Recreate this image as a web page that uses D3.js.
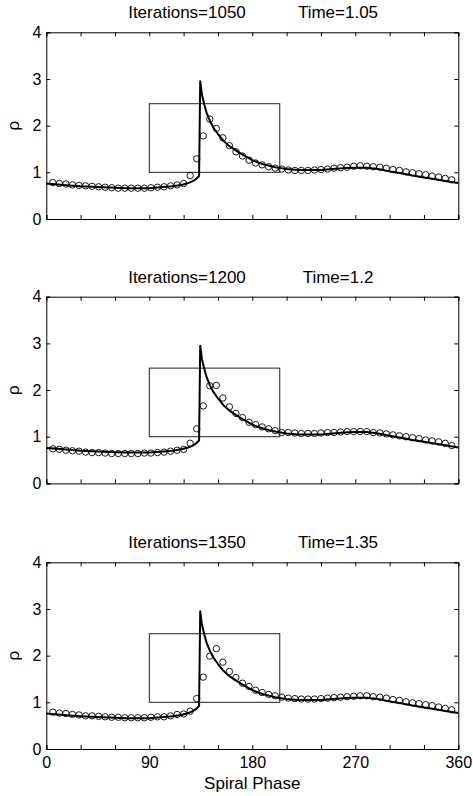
<!DOCTYPE html>
<html>
<head>
<meta charset="utf-8">
<script src="https://cdn.jsdelivr.net/npm/d3@7"></script>
<style>
  html, body { margin: 0; padding: 0; background: #fff; }
  svg { display: block; font-family: "Liberation Sans", Arial, Helvetica, sans-serif; }
</style>
</head>
<body>
<svg id="chart" width="473" height="796"></svg>
<script>
// ---------------- data ----------------
const titlesIter = ["Iterations=1050", "Iterations=1200", "Iterations=1350"];
const titlesTime = ["Time=1.05", "Time=1.2", "Time=1.35"];

const phase = [5.71, 11.43, 17.14, 22.86, 28.57, 34.29, 40.00, 45.71, 51.43, 57.14,
  62.86, 68.57, 74.29, 80.00, 85.71, 91.43, 97.14, 102.86, 108.57, 114.29,
  120.00, 125.71, 131.43, 137.14, 142.86, 148.57, 154.29, 160.00, 165.71, 171.43,
  177.14, 182.86, 188.57, 194.29, 200.00, 205.71, 211.43, 217.14, 222.86, 228.57,
  234.29, 240.00, 245.71, 251.43, 257.14, 262.86, 268.57, 274.29, 280.00, 285.71,
  291.43, 297.14, 302.86, 308.57, 314.29, 320.00, 325.71, 331.43, 337.14, 342.86,
  348.57, 354.29];

const rho1050 = [0.78, 0.76, 0.75, 0.73, 0.72, 0.71, 0.70, 0.69, 0.68, 0.67,
  0.66, 0.66, 0.66, 0.66, 0.66, 0.67, 0.68, 0.69, 0.71, 0.73,
  0.76, 0.93, 1.29, 1.78, 2.14, 1.94, 1.74, 1.57, 1.44, 1.35,
  1.26, 1.20, 1.16, 1.12, 1.09, 1.07, 1.05, 1.04, 1.04, 1.04,
  1.05, 1.06, 1.07, 1.09, 1.10, 1.11, 1.13, 1.14, 1.13, 1.12,
  1.11, 1.09, 1.06, 1.04, 1.01, 0.99, 0.97, 0.95, 0.92, 0.90,
  0.87, 0.84];

const rho1200 = [0.74, 0.73, 0.71, 0.70, 0.69, 0.67, 0.66, 0.66, 0.65, 0.64,
  0.64, 0.64, 0.64, 0.64, 0.65, 0.65, 0.66, 0.67, 0.69, 0.71,
  0.73, 0.86, 1.17, 1.66, 2.09, 2.10, 1.83, 1.64, 1.50, 1.41,
  1.31, 1.26, 1.21, 1.17, 1.13, 1.09, 1.09, 1.08, 1.07, 1.07,
  1.07, 1.08, 1.09, 1.09, 1.10, 1.11, 1.11, 1.11, 1.11, 1.09,
  1.08, 1.06, 1.04, 1.02, 1.00, 0.98, 0.96, 0.93, 0.91, 0.89,
  0.86, 0.81];

const rho1350 = [0.79, 0.77, 0.76, 0.74, 0.73, 0.71, 0.71, 0.70, 0.69, 0.68,
  0.68, 0.67, 0.67, 0.67, 0.67, 0.68, 0.69, 0.69, 0.71, 0.74,
  0.75, 0.81, 1.08, 1.54, 1.99, 2.15, 1.86, 1.66, 1.53, 1.41,
  1.34, 1.26, 1.21, 1.17, 1.14, 1.11, 1.09, 1.08, 1.07, 1.07,
  1.07, 1.08, 1.09, 1.10, 1.11, 1.12, 1.13, 1.14, 1.14, 1.12,
  1.11, 1.09, 1.06, 1.04, 1.01, 0.99, 0.97, 0.95, 0.93, 0.90,
  0.87, 0.84];

// steady-state solution (solid line)
const linePhase = [0, 10, 20, 30, 40, 50, 60, 70, 80, 90,
  100, 110, 118, 124, 128, 131, 133.5, 134.5, 136, 138,
  140, 143, 146, 150, 155, 160, 165, 170, 175, 180,
  185, 190, 195, 200, 205, 210, 220, 230, 240, 250,
  260, 270, 280, 290, 300, 310, 320, 330, 340, 350, 360];
const lineRho = [0.76, 0.74, 0.72, 0.70, 0.69, 0.68, 0.67, 0.66, 0.66, 0.66,
  0.68, 0.70, 0.73, 0.77, 0.81, 0.86, 0.92, 2.95, 2.66, 2.46,
  2.28, 2.10, 1.96, 1.82, 1.67, 1.56, 1.48, 1.40, 1.33, 1.26,
  1.21, 1.17, 1.14, 1.11, 1.09, 1.07, 1.05, 1.05, 1.05, 1.07,
  1.09, 1.10, 1.10, 1.07, 1.02, 0.98, 0.93, 0.89, 0.85, 0.81, 0.77];

const panelsRho = [rho1050, rho1200, rho1350];

const xTicks = [0, 30, 60, 90, 120, 150, 180, 210, 240, 270, 300, 330, 360];
const xTickLabels = [0, 90, 180, 270, 360];
const yTicks = [0, 1, 2, 3, 4];
const boxPhase = [90, 204];
const boxRho = [1.0, 2.47];

// ---------------- layout ----------------
const svg = d3.select("#chart");
const left = 46.3, right = 458.3;
const panelTops = [32.3, 296.7, 562.3];
const panelH = 186.7;
const tickFont = 16;
const labelFont = 17;

const x = d3.scaleLinear().domain([0, 360]).range([left, right]);

panelTops.forEach((top, i) => {
  const bottom = top + panelH;
  const y = d3.scaleLinear().domain([0, 4]).range([bottom, top]);
  const g = svg.append("g");
  const isLast = i === panelTops.length - 1;

  // rectangle (zoom window)
  g.append("rect")
    .attr("x", x(boxPhase[0])).attr("y", y(boxRho[1]))
    .attr("width", x(boxPhase[1]) - x(boxPhase[0]))
    .attr("height", y(boxRho[0]) - y(boxRho[1]))
    .attr("fill", "none").attr("stroke", "#222").attr("stroke-width", 1);

  // solid line
  const line = d3.line().x((d, k) => x(linePhase[k])).y(d => y(d));
  g.append("path").datum(lineRho)
    .attr("d", line)
    .attr("fill", "none").attr("stroke", "#000").attr("stroke-width", 2)
    .attr("stroke-linejoin", "round");

  // circles
  g.selectAll("circle.pt").data(panelsRho[i]).enter().append("circle")
    .attr("class", "pt")
    .attr("cx", (d, k) => x(phase[k])).attr("cy", d => y(d))
    .attr("r", 3.2)
    .attr("fill", "none").attr("stroke", "#000").attr("stroke-width", 0.9);

  // axes
  const axB = d3.axisBottom(x).tickValues(xTicks).tickSize(-4).tickPadding(8)
    .tickFormat(d => (isLast && xTickLabels.includes(d)) ? d : "");
  const axT = d3.axisTop(x).tickValues(xTicks).tickSize(-4).tickFormat("");
  const axL = d3.axisLeft(y).tickValues(yTicks).tickSize(-4).tickPadding(5).tickFormat(d3.format("d"));
  const axR = d3.axisRight(y).tickValues(yTicks).tickSize(-4).tickFormat("");

  [[axB, `translate(0,${bottom})`], [axT, `translate(0,${top})`],
   [axL, `translate(${left},0)`], [axR, `translate(${right},0)`]].forEach(([ax, tr]) => {
    const a = g.append("g").attr("transform", tr).call(ax);
    a.select(".domain").attr("stroke", "#000").attr("stroke-width", 1);
    a.selectAll(".tick line").attr("stroke", "#000").attr("stroke-width", 1);
    a.selectAll("text").attr("font-size", tickFont).attr("fill", "#000")
      .attr("font-family", "'Liberation Sans', Arial, sans-serif");
  });

  // titles
  g.append("text").attr("x", 187).attr("y", top - 14)
    .attr("text-anchor", "middle").attr("font-size", labelFont).text(titlesIter[i]);
  g.append("text").attr("x", 338).attr("y", top - 14)
    .attr("text-anchor", "middle").attr("font-size", labelFont).text(titlesTime[i]);

  // y label
  g.append("text")
    .attr("transform", `translate(19,${(top + bottom) / 2}) rotate(-90)`)
    .attr("text-anchor", "middle").attr("font-size", labelFont).text("ρ");

  if (isLast) {
    g.append("text").attr("x", (left + right) / 2).attr("y", bottom + 40)
      .attr("text-anchor", "middle").attr("font-size", labelFont).text("Spiral Phase");
  }
});
</script>
</body>
</html>
